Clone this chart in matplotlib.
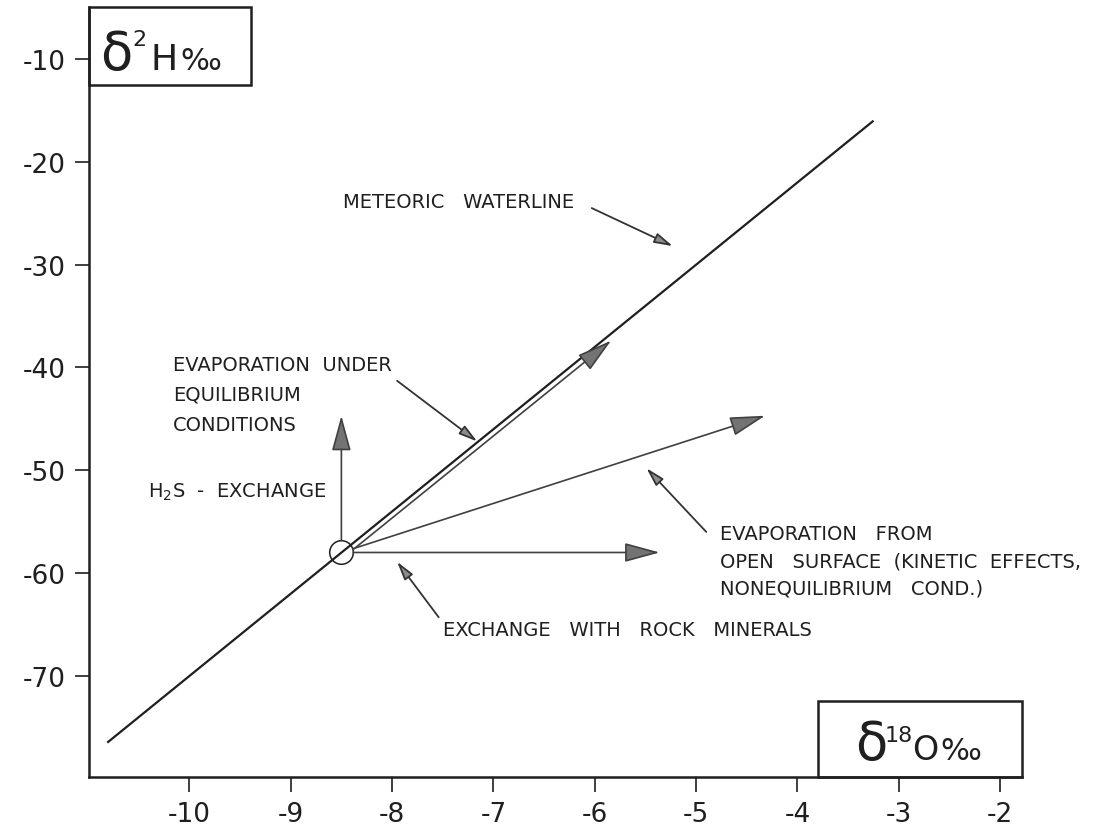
import matplotlib
matplotlib.use("Agg")
import matplotlib.pyplot as plt
from matplotlib.patches import Rectangle
from matplotlib.transforms import offset_copy

plt.rcParams["font.family"] = ["DejaVu Sans"]
plt.rcParams["axes.unicode_minus"] = False

# meteoric water line (dD = 8 d18O + 10)
mwl_x = [-10.81, -3.25]
mwl_y = [-76.5, -16.0]

# starting water and the ends of the shift vectors
origin = (-8.5, -58.0)
eq_tip = (-5.87, -37.0)
kin_tip = (-4.32, -44.7)
h2s_tip = (-8.5, -44.7)
rock_tip = (-5.36, -58.0)

xticks = [-10, -9, -8, -7, -6, -5, -4, -3, -2]
yticks = [-70, -60, -50, -40, -30, -20, -10]

# label pointers: (from, to)
ptr_mwl = ((-6.03, -24.5), (-5.23, -28.2))
ptr_eq = ((-7.95, -41.3), (-7.16, -47.2))
ptr_kin = ((-4.90, -56.0), (-5.49, -49.8))
ptr_rock = ((-7.54, -64.3), (-7.95, -58.9))

ink = "0.12"

fig = plt.figure(figsize=(11.04, 8.29), dpi=100)
ax = fig.add_axes([89 / 1104, 51 / 829, 933 / 1104, 770 / 829])
ax.set_xlim(-10.99, -1.785)
ax.set_ylim(-79.84, -4.94)

for s in ["top", "right"]:
    ax.spines[s].set_visible(False)
for s in ["left", "bottom"]:
    ax.spines[s].set_linewidth(1.8)
    ax.spines[s].set_color(ink)

ax.set_xticks(xticks)
ax.set_xticklabels([str(t) for t in xticks])
ax.set_yticks(yticks)
ax.set_yticklabels([str(t) for t in yticks])
ax.tick_params(axis="x", direction="out", length=11, width=1.2, pad=6,
               labelsize=19, colors=ink)
ax.tick_params(axis="y", direction="out", length=10, width=1.2, pad=7,
               labelsize=19, colors=ink)

# meteoric line and the sample circle
ax.plot(mwl_x, mwl_y, color=ink, lw=1.6, solid_capstyle="butt")
ax.plot(*origin, "o", ms=17, mfc="none", mec=ink, mew=1.1)

big = dict(arrowstyle="-|>,head_length=1.1,head_width=0.3", mutation_scale=20,
           lw=1.2, ec="0.25", fc="0.45", shrinkA=8.6, shrinkB=0)

# equilibrium vector drawn just below the meteoric line
eq_trans = offset_copy(ax.transData, fig=fig, x=2.3, y=-2.9, units="points")
ax.annotate("", xy=eq_tip, xytext=origin, xycoords=eq_trans,
            textcoords=eq_trans, arrowprops=big)
for tip in [kin_tip, h2s_tip, rock_tip]:
    ax.annotate("", xy=tip, xytext=origin, arrowprops=big)

small = dict(arrowstyle="-|>,head_length=0.8,head_width=0.22", mutation_scale=14,
             lw=1.3, ec="0.2", fc="0.55", shrinkA=0, shrinkB=0)
for start, end in [ptr_mwl, ptr_eq, ptr_kin, ptr_rock]:
    ax.annotate("", xy=end, xytext=start, arrowprops=small)

lab = dict(fontsize=14, color=ink, va="center", ha="left")
ax.text(-8.48, -23.9, "METEORIC   WATERLINE", **lab)
ax.text(-10.16, -39.7, "EVAPORATION  UNDER", **lab)
ax.text(-10.16, -42.6, "EQUILIBRIUM", **lab)
ax.text(-10.16, -45.6, "CONDITIONS", **lab)
ax.text(-10.41, -52.1, r"H$_2$S  -  EXCHANGE", **lab)
ax.text(-4.76, -56.2, "EVAPORATION   FROM", **lab)
ax.text(-4.76, -58.8, "OPEN   SURFACE  (KINETIC  EFFECTS,", **lab)
ax.text(-4.76, -61.5, "NONEQUILIBRIUM   COND.)", **lab)
ax.text(-7.50, -65.5, "EXCHANGE   WITH   ROCK   MINERALS", **lab)

# axis title boxes
box = dict(fill=False, lw=1.8, ec=ink, transform=ax.transAxes, clip_on=False)
ax.add_patch(Rectangle((0, 0.8987), 0.1736, 0.1013, **box))
ax.add_patch(Rectangle((0.781, 0), 0.219, 0.0987, **box))

t = dict(transform=ax.transAxes, color=ink, va="baseline", ha="left")
ax.text(0.0118, 0.9195, "δ", fontsize=38, **t)
ax.text(0.047, 0.951, "2", fontsize=16, **t)
ax.text(0.0654, 0.9195, "H", fontsize=26, **t)
ax.text(0.0975, 0.9195, "‰", fontsize=22, **t)

ax.text(0.821, 0.0234, "δ", fontsize=38, **t)
ax.text(0.853, 0.0468, "18", fontsize=16, **t)
ax.text(0.882, 0.0234, "O", fontsize=24, **t)
ax.text(0.913, 0.0234, "‰", fontsize=22, **t)

fig.savefig("out.png", dpi=100)
